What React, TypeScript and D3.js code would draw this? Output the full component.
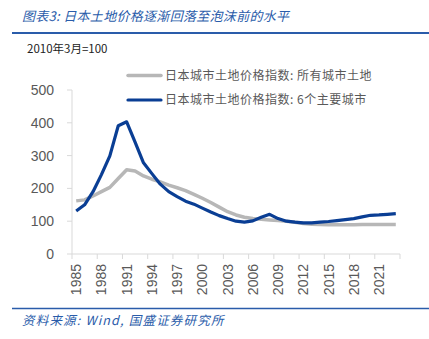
import React from "react";
import * as d3 from "d3";

const years: number[] = [
  1985, 1986, 1987, 1988, 1989, 1990, 1991, 1992, 1993, 1994, 1995, 1996, 1997,
  1998, 1999, 2000, 2001, 2002, 2003, 2004, 2005, 2006, 2007, 2008, 2009, 2010,
  2011, 2012, 2013, 2014, 2015, 2016, 2017, 2018, 2019, 2020, 2021, 2022, 2023,
];

const allCities: number[] = [
  162, 165, 177, 190, 203, 230, 257, 253, 238, 228, 220, 210, 202,
  193, 182, 170, 157, 143, 129, 119, 112, 108, 106, 104, 102, 100,
  97, 93, 91, 90, 89, 89, 89, 89, 90, 90, 90, 90, 90,
];

const sixCities: number[] = [
  131, 150, 190, 242, 299, 391, 403, 341, 278, 245, 213, 190, 175,
  161, 152, 140, 128, 117, 108, 100, 97, 101, 112, 121, 108, 100,
  97, 95, 95, 97, 99, 102, 105, 108, 113, 118, 119, 121, 123,
];

const yTicks: number[] = [0, 100, 200, 300, 400, 500];
const xLabelYears: number[] = [1985, 1988, 1991, 1994, 1997, 2000, 2003, 2006, 2009, 2012, 2015, 2018, 2021];

const seriesNames: string[] = [
  "日本城市土地价格指数: 所有城市土地",
  "日本城市土地价格指数: 6个主要城市",
];

const titleText = "图表3:  日本土地价格逐渐回落至泡沫前的水平";
const unitText = "2010年3月=100";
const sourceText = "资料来源:  Wind,  国盛证券研究所";

const W = 429;
const H = 339;
const BLUE = "#0A3E94";
const GRAY = "#B7B7B7";
const HEAD_BLUE = "#2A5CAA";
const AXIS = "#D9D9D9";
const TEXT = "#595959";
const CJK = "'Noto Sans CJK SC', 'Noto Sans', sans-serif";
const NUM = "'Liberation Sans', Arial, sans-serif";

export default function App() {
  const x = d3.scaleBand<number>().domain(years).range([72, 400]).padding(0);
  const y = d3.scaleLinear().domain([0, 500]).range([254, 90]);
  const cx = (yr: number) => (x(yr) ?? 0) + x.bandwidth() / 2;

  const line = d3
    .line<number>()
    .x((_, i) => cx(years[i]))
    .y((d) => y(d))
    .curve(d3.curveLinear);

  const tickXs: number[] = xLabelYears.map((yr) => x(yr) ?? 0).concat([x.range()[1]]);

  return (
    <svg
      width={W}
      height={H}
      style={{ position: "absolute", left: 0, top: 0, background: "#fff" }}
    >
      <text x={22} y={21} fontFamily={CJK} fontSize={13} fontStyle="italic" letterSpacing={0.3} fill={HEAD_BLUE}>
        {titleText}
      </text>
      <line x1={12} x2={429} y1={33} y2={33} stroke={HEAD_BLUE} strokeWidth={2} />
      <text x={27} y={53} fontFamily={CJK} fontSize={11.5} fill="#222">
        {unitText}
      </text>

      {/* y axis */}
      <line x1={72} x2={72} y1={y(500)} y2={y(0)} stroke={AXIS} strokeWidth={1} />
      {yTicks.map((t) => (
        <g key={t}>
          <line x1={67} x2={72} y1={y(t)} y2={y(t)} stroke={AXIS} strokeWidth={1} />
          <text
            x={54}
            y={y(t)}
            dy="0.36em"
            textAnchor="end"
            fontFamily={NUM}
            fontSize={14}
            fill={TEXT}
          >
            {t}
          </text>
        </g>
      ))}

      {/* x axis */}
      <line x1={72} x2={400} y1={254} y2={254} stroke={AXIS} strokeWidth={1} />
      {tickXs.map((tx, i) => (
        <line key={i} x1={tx} x2={tx} y1={254} y2={259} stroke={AXIS} strokeWidth={1} />
      ))}
      {xLabelYears.map((yr) => (
        <text
          key={yr}
          transform={`translate(${cx(yr)},264) rotate(-90)`}
          dy="0.36em"
          textAnchor="end"
          fontFamily={NUM}
          fontSize={14}
          fill={TEXT}
        >
          {yr}
        </text>
      ))}

      {/* series */}
      <path d={line(allCities) ?? ""} fill="none" stroke={GRAY} strokeWidth={3.5} strokeLinejoin="round" />
      <path d={line(sixCities) ?? ""} fill="none" stroke={BLUE} strokeWidth={3.2} strokeLinejoin="round" />

      {/* legend */}
      <line x1={128} x2={161} y1={75.5} y2={75.5} stroke={GRAY} strokeWidth={3.5} strokeLinecap="round" />
      <text x={165} y={75.5} dy="0.36em" fontFamily={CJK} fontSize={12} letterSpacing={0.5} fill={TEXT}>
        {seriesNames[0]}
      </text>
      <line x1={128} x2={161} y1={100} y2={100} stroke={BLUE} strokeWidth={3.2} strokeLinecap="round" />
      <text x={165} y={100} dy="0.36em" fontFamily={CJK} fontSize={12} letterSpacing={0.5} fill={TEXT}>
        {seriesNames[1]}
      </text>

      <line x1={12} x2={429} y1={308.5} y2={308.5} stroke={HEAD_BLUE} strokeWidth={1.5} />
      <text x={22} y={325} fontFamily={CJK} fontSize={12.5} fontStyle="italic" letterSpacing={1.2} fill={HEAD_BLUE}>
        {sourceText}
      </text>
    </svg>
  );
}
